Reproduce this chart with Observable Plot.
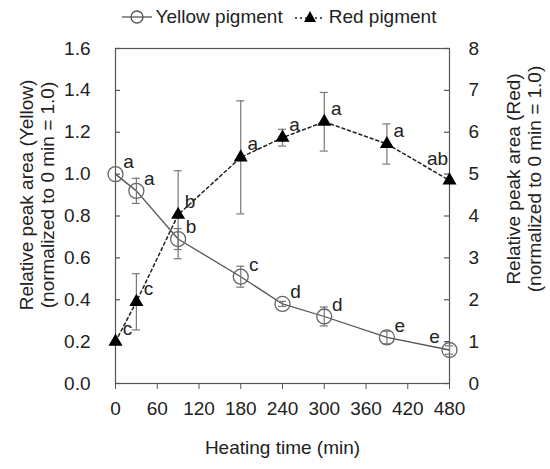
<!DOCTYPE html>
<html>
<head>
<meta charset="utf-8">
<script src="https://cdn.jsdelivr.net/npm/d3@7"></script>
<script src="https://cdn.jsdelivr.net/npm/@observablehq/plot@0.6"></script>
<style>
  body { margin: 0; background: #fff; font-family: "Liberation Sans", Arial, sans-serif; }
  #legend { height: 34px; display: flex; align-items: center; justify-content: center; font-size: 19px; color: #222; padding-left: 20px; box-sizing: border-box; }
  #legend span { margin-right: 12px; }
  #legend svg { margin-right: 4px; }
</style>
</head>
<body>
<div id="legend">
  <svg width="30" height="20"><line x1="0" x2="30" y1="10" y2="10" stroke="#555" stroke-width="1.3"/><circle cx="15" cy="10" r="6" fill="none" stroke="#555" stroke-width="1.3"/></svg>
  <span>Yellow pigment</span>
  <svg width="30" height="20"><line x1="0" x2="30" y1="11" y2="11" stroke="#222" stroke-width="1.5" stroke-dasharray="2,3"/><path d="M15,4 L21,15 L9,15 Z" fill="#000"/></svg>
  <span>Red pigment</span>
</div>
<div id="chart"></div>
<script>
const time = [0, 30, 90, 180, 240, 300, 390, 480];
const yellow = [1.0, 0.92, 0.69, 0.51, 0.38, 0.32, 0.22, 0.16];
const yellowErr = [0, 0.06, 0.05, 0.05, 0.012, 0.045, 0.03, 0.02];
const red = [1.0, 1.95, 4.03, 5.40, 5.87, 6.25, 5.72, 4.85];
const redErr = [0, 0.67, 1.05, 1.35, 0.2, 0.7, 0.48, 0];
const yellowLetters = ["a", "a", "b", "c", "d", "d", "e", "e"];
const redLetters = ["c", "c", "b", "a", "a", "a", "a", "ab"];
const xTicks = [0, 60, 120, 180, 240, 300, 360, 420, 480];
const yTicks = [0, 0.2, 0.4, 0.6, 0.8, 1.0, 1.2, 1.4, 1.6];
const redTicks = [0, 1, 2, 3, 4, 5, 6, 7, 8];

const ratio = 1.6 / 8; // red axis (0–8) mapped onto yellow axis (0–1.6)
const rows = time.map((t, i) => ({
  t, y: yellow[i], ye: yellowErr[i], r: red[i] * ratio, re: redErr[i] * ratio,
  yl: yellowLetters[i], rl: redLetters[i]
}));
const last = time[time.length - 1];

const axisColor = "#555";
const chart = Plot.plot({
  width: 550,
  height: 435,
  marginLeft: 115,
  marginRight: 101,
  marginTop: 14,
  marginBottom: 86,
  x: {domain: [0, 480]},
  y: {domain: [0, 1.6]},
  style: {fontFamily: "'Liberation Sans', Arial, sans-serif", fontSize: "19px", color: "#222", background: "#fff"},
  marks: [
    Plot.frame({stroke: axisColor, strokeWidth: 1.2}),
    Plot.axisX({ticks: xTicks, tickSize: 6, tickPadding: 12, stroke: axisColor, label: null, fontSize: 19}),
    Plot.axisY({ticks: yTicks, anchor: "left", tickSize: 0, tickPadding: 25, tickFormat: d3.format(".1f"), label: null, fontSize: 19}),
    Plot.axisY({ticks: yTicks, anchor: "right", tickSize: 0, tickPadding: 19, tickFormat: d => String(redTicks[yTicks.indexOf(d)]), label: null, fontSize: 19}),
    Plot.ruleY(yTicks, {y: d => d, x1: 0, x2: 0, insetRight: -5, stroke: axisColor, strokeWidth: 1.2}),
    Plot.ruleY(yTicks, {y: d => d, x1: 480, x2: 480, insetLeft: -5, stroke: axisColor, strokeWidth: 1.2}),
    Plot.text(["Heating time (min)"], {frameAnchor: "bottom", dy: 64, lineAnchor: "middle", fontSize: 19, fill: "#222"}),
    Plot.text(["Relative peak area (Yellow)\n(normalized to 0 min = 1.0)"], {frameAnchor: "left", textAnchor: "middle", rotate: -90, dx: -79, dy: -21, lineAnchor: "middle", lineHeight: 1.15, fontSize: 19, fill: "#222"}),
    Plot.text(["Relative peak area (Red)\n(normalized to 0 min = 1.0)"], {frameAnchor: "right", textAnchor: "middle", rotate: -90, dx: 74, dy: -37, lineAnchor: "middle", lineHeight: 1.15, fontSize: 19, fill: "#222"}),
    // lines
    Plot.line(rows, {x: "t", y: "y", stroke: "#555", strokeWidth: 1.3}),
    Plot.line(rows, {x: "t", y: "r", stroke: "#222", strokeWidth: 1.5, strokeDasharray: "3,3"}),
    // error bars
    Plot.ruleX(rows.filter(d => d.ye > 0), {x: "t", y1: d => d.y - d.ye, y2: d => d.y + d.ye, stroke: "#777", strokeWidth: 1.2}),
    Plot.ruleY(rows.filter(d => d.ye > 0), {x1: "t", x2: "t", y: d => d.y - d.ye, insetLeft: -4, insetRight: -4, stroke: "#777", strokeWidth: 1.2}),
    Plot.ruleY(rows.filter(d => d.ye > 0), {x1: "t", x2: "t", y: d => d.y + d.ye, insetLeft: -4, insetRight: -4, stroke: "#777", strokeWidth: 1.2}),
    Plot.ruleX(rows.filter(d => d.re > 0), {x: "t", y1: d => d.r - d.re, y2: d => d.r + d.re, stroke: "#777", strokeWidth: 1.2}),
    Plot.ruleY(rows.filter(d => d.re > 0), {x1: "t", x2: "t", y: d => d.r - d.re, insetLeft: -4, insetRight: -4, stroke: "#777", strokeWidth: 1.2}),
    Plot.ruleY(rows.filter(d => d.re > 0), {x1: "t", x2: "t", y: d => d.r + d.re, insetLeft: -4, insetRight: -4, stroke: "#777", strokeWidth: 1.2}),
    // markers
    Plot.dot(rows, {x: "t", y: "y", r: 7.5, fill: "none", stroke: "#666", strokeWidth: 1.3}),
    Plot.dot(rows, {x: "t", y: "r", r: 5.2, symbol: "triangle", fill: "#000", stroke: "none"}),
    // letters
    Plot.text(rows.filter(d => d.t < last), {x: "t", y: "y", text: "yl", dx: 13, dy: -12, fontSize: 19, fill: "#222"}),
    Plot.text(rows.filter(d => d.t === last), {x: "t", y: "y", text: "yl", dx: -15, dy: -13, fontSize: 19, fill: "#222"}),
    Plot.text(rows.filter(d => d.t < last), {x: "t", y: "r", text: "rl", dx: 12, dy: -13, fontSize: 19, fill: "#222"}),
    Plot.text(rows.filter(d => d.t === last), {x: "t", y: "r", text: "rl", dx: -12, dy: -22, fontSize: 19, fill: "#222"})
  ]
});
document.getElementById("chart").appendChild(chart);
</script>
</body>
</html>
